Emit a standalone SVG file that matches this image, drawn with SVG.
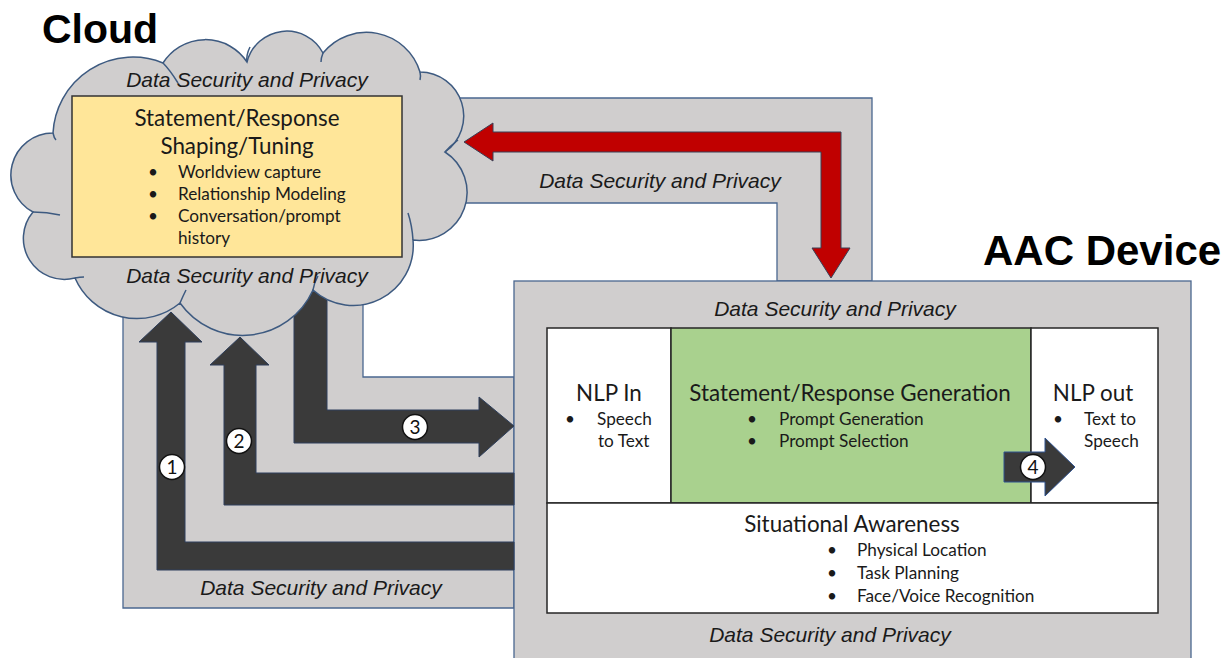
<svg xmlns="http://www.w3.org/2000/svg" width="1230" height="658" viewBox="0 0 1230 658">
  <style>
    .band { fill: #d0cece; stroke: #4a6790; stroke-width: 1.3; }
    .dsp { font-family: "Liberation Sans", Arial, sans-serif; font-style: italic; font-size: 21px; fill: #1a1a1a; text-anchor: middle; }
    .title { font-family: "Liberation Sans", Arial, sans-serif; font-weight: bold; fill: #000; }
    .h { font-family: Lato, "Open Sans", sans-serif; font-size: 22.4px; fill: #1a1a1a; text-anchor: middle; }
    .b { font-family: Lato, "Open Sans", sans-serif; font-size: 17.2px; fill: #1a1a1a; }
    .dark { fill: #3a3a3a; stroke: #2e3f5c; stroke-width: 1; stroke-linejoin: miter; }
    .red { fill: #c00000; stroke: #3a3f55; stroke-width: 1; }
    .num circle { fill: #fff; stroke: #111; stroke-width: 1.5; }
    .num text { font-family: Lato, "Open Sans", sans-serif; font-size: 19px; fill: #111; text-anchor: middle; }
    .cell { stroke: #262626; stroke-width: 1.5; }
    .cloud { fill: #d0cece; stroke: #3d5a80; stroke-width: 1.5; }
    .tick { fill: none; stroke: #3d5a80; stroke-width: 1.5; }
  </style>

  <!-- titles -->
  <text class="title" x="42" y="43" font-size="41">Cloud</text>
  <text class="title" x="983" y="265" font-size="42">AAC Device</text>

  <!-- secured channels between cloud and device -->
  <g id="security-bands">
    <path class="band" d="M420,98 L872,98 L872,281 L777,281 L777,203 L420,203 Z"/>
    <path class="band" d="M123,255 L363,255 L363,377 L514,377 L514,608 L123,608 Z"/>
    <text class="dsp" x="660" y="188">Data Security and Privacy</text>
    <text class="dsp" x="321" y="595">Data Security and Privacy</text>
  </g>

  <!-- AAC device -->
  <g id="aac-device">
    <rect class="band" x="514" y="281" width="677" height="390"/>
    <text class="dsp" x="835" y="316">Data Security and Privacy</text>
    <text class="dsp" x="830" y="642">Data Security and Privacy</text>

    <g id="nlp-in">
      <rect class="cell" x="547" y="328" width="124" height="175" fill="#fff"/>
      <text class="h" x="609" y="401">NLP In</text>
      <text class="b" x="565" y="425">•</text>
      <text class="b" x="597" y="425">Speech</text>
      <text class="b" x="598" y="447">to Text</text>
    </g>

    <g id="response-generation">
      <rect class="cell" x="671" y="328" width="360" height="175" fill="#a9d18e"/>
      <text class="h" x="850" y="401">Statement/Response Generation</text>
      <text class="b" x="747" y="425">•</text>
      <text class="b" x="779" y="425">Prompt Generation</text>
      <text class="b" x="747" y="447">•</text>
      <text class="b" x="779" y="447">Prompt Selection</text>
    </g>

    <g id="nlp-out">
      <rect class="cell" x="1031" y="328" width="127" height="175" fill="#fff"/>
      <text class="h" x="1093" y="401">NLP out</text>
      <text class="b" x="1053" y="425">•</text>
      <text class="b" x="1084" y="425">Text to</text>
      <text class="b" x="1084" y="447">Speech</text>
    </g>

    <g id="situational-awareness">
      <rect class="cell" x="547" y="503" width="611" height="110" fill="#fff"/>
      <text class="h" x="852" y="532">Situational Awareness</text>
      <text class="b" x="827" y="556">•</text>
      <text class="b" x="857" y="556">Physical Location</text>
      <text class="b" x="827" y="579">•</text>
      <text class="b" x="857" y="579">Task Planning</text>
      <text class="b" x="827" y="602">•</text>
      <text class="b" x="857" y="602">Face/Voice Recognition</text>
    </g>
  </g>

  <!-- data flows -->
  <g id="connectors">
    <!-- 1: device to cloud (outer) -->
    <path class="dark" d="M171,312 L202,342 L185,342 L185,542 L514,542 L514,570 L157,570 L157,342 L139,342 Z"/>
    <!-- 2: device to cloud (inner) -->
    <path class="dark" d="M240,337 L269,365 L256,365 L256,473 L514,473 L514,505 L224,505 L224,365 L210,365 Z"/>
    <!-- 3: cloud to device -->
    <path class="dark" d="M294,285 L327,285 L327,410 L479,410 L479,397 L514,426 L479,457 L479,443 L294,443 Z"/>
    <!-- red loop: device back to cloud shaping -->
    <path class="red" d="M464,142 L493,123 L493,132 L841,132 L841,248 L850,248 L831,278 L812,248 L821,248 L821,152 L493,152 L493,161 Z"/>
    <!-- 4: generation to speech output -->
    <path class="dark" style="stroke:#2f528f" d="M1004,452 L1045,452 L1045,438 L1075,467 L1045,496 L1045,482 L1004,482 Z"/>

    <g class="num">
      <circle cx="172" cy="467" r="12.5"/><text x="172" y="474">1</text>
      <circle cx="239" cy="441" r="12.5"/><text x="239" y="448">2</text>
      <circle cx="415" cy="427" r="12.5"/><text x="415" y="434">3</text>
      <circle cx="1033" cy="467" r="12.5"/><text x="1033" y="474">4</text>
    </g>
  </g>

  <!-- cloud service -->
  <g id="cloud">
    <path class="cloud" d="M53,133
      A80,80 0 0 1 163,63
      A50,50 0 0 1 247,62
      A41,41 0 0 1 323,53
      A56,56 0 0 1 420,72
      A44,44 0 0 1 445,152
      A48,48 0 0 1 413,240
      A60,60 0 0 1 313,290
      A77,77 0 0 1 180,303
      A67.5,67.5 0 0 1 75,278
      A41,41 0 0 1 33,212
      A42,42 0 0 1 53,133 Z"/>
    <path class="tick" d="M163,63 Q170,70 178,83"/>
    <path class="tick" d="M247,62 Q246,55 250,47"/>
    <path class="tick" d="M323,53 Q321,58 321,62"/>
    <path class="tick" d="M420,72 Q421,76 420,80"/>
    <path class="tick" d="M445,152 Q450,146 458,140"/>
    <path class="tick" d="M413,240 Q412,225 408,213"/>
    <path class="tick" d="M313,290 Q314,283 318,276"/>
    <path class="tick" d="M180,303 Q183,296 186,290"/>
    <path class="tick" d="M75,278 Q80,277 84,277"/>
    <path class="tick" d="M33,212 Q47,212 60,215"/>
    <path class="tick" d="M53,133 Q54,138 56,140"/>

    <text class="dsp" x="247" y="87">Data Security and Privacy</text>
    <text class="dsp" x="247" y="283">Data Security and Privacy</text>

    <g id="response-shaping">
      <rect x="72" y="96" width="330" height="161" fill="#ffe699" stroke="#333" stroke-width="1.5"/>
      <text class="h" x="237" y="126">Statement/Response</text>
      <text class="h" x="237" y="154">Shaping/Tuning</text>
      <text class="b" x="148" y="178">•</text>
      <text class="b" x="178" y="178">Worldview capture</text>
      <text class="b" x="148" y="200">•</text>
      <text class="b" x="178" y="200">Relationship Modeling</text>
      <text class="b" x="148" y="222">•</text>
      <text class="b" x="178" y="222">Conversation/prompt</text>
      <text class="b" x="178" y="244">history</text>
    </g>
  </g>
</svg>
